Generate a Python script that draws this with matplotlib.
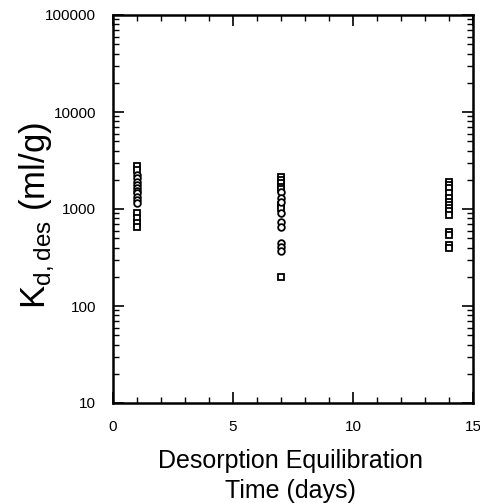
import matplotlib
matplotlib.use("Agg")
import matplotlib.pyplot as plt
from matplotlib.ticker import LogLocator, FixedLocator, NullFormatter

plt.rcParams['font.family'] = ['Liberation Sans', 'DejaVu Sans']
plt.rcParams['mathtext.fontset'] = 'custom'
plt.rcParams['mathtext.rm'] = 'Liberation Sans'

# Data: desorption equilibration time (days) and Kd,des (ml/g)
day1_sq = [2775, 2523, 903, 802, 712, 657]
day1_ci = [2241, 2073, 1912, 1768, 1634, 1544, 1452, 1339, 1238, 1145]
day7_sq = [2153, 1991, 1841, 1700, 1597, 1099, 1016, 198]
day7_ci = [1508, 1288, 1189, 903, 740, 657, 450, 409, 372]
day14_sq = [1912, 1768, 1634, 1452, 1288, 1189, 1099, 1016, 950, 865, 579, 535, 423, 400]
days = [1, 7, 14]
xticks = [0, 5, 10, 15]
yticks = [10, 100, 1000, 10000, 100000]
ytick_labels = ['10', '100', '1000', '10000', '100000']

fig = plt.figure(figsize=(4.8, 5.03), dpi=100)
ax = fig.add_axes([113/480, 1-403/503, 360/480, 388/503])

groups_sq = [day1_sq, day7_sq, day14_sq]
groups_ci = [day1_ci, day7_ci, []]
for d, sq, ci in zip(days, groups_sq, groups_ci):
    ax.plot([d]*len(sq), sq, linestyle='none', marker='s', ms=4.8,
            mfc='white', mec='black', mew=1.3)
    if ci:
        ax.plot([d]*len(ci), ci, linestyle='none', marker='o', ms=4.8,
                mfc='white', mec='black', mew=1.3)

ax.set_yscale('log')
ax.set_xlim(0, 15)
ax.set_ylim(10, 100000)
ax.set_xticks(xticks)
ax.set_xticklabels([str(t) for t in xticks])
ax.xaxis.set_minor_locator(FixedLocator(list(range(0, 16))))
ax.set_yticks(yticks)
ax.set_yticklabels(ytick_labels)
ax.yaxis.set_minor_locator(LogLocator(base=10, subs=range(2, 10), numticks=20))
ax.yaxis.set_minor_formatter(NullFormatter())

for s in ax.spines.values():
    s.set_linewidth(1.8)
ax.tick_params(which='major', direction='in', length=8, width=1.2,
               top=True, right=True, labelsize=11)
ax.tick_params(which='minor', direction='in', length=4, width=1.0,
               top=True, right=True)
ax.tick_params(axis='x', which='major', pad=12)
ax.tick_params(axis='y', which='major', pad=12)

# y label
fig.text(37/480, 1-215/503, r'K$_{\mathregular{d,des}}$ (ml/g)', rotation=90,
         ha='center', va='center', fontsize=25)

# x label
fig.text(290/480, 1-468/503, 'Desorption Equilibration', ha='center',
         va='baseline', fontsize=18)
fig.text(290/480, 1-498/503, 'Time (days)', ha='center', va='baseline',
         fontsize=18)

fig.savefig('out.png', dpi=100)
